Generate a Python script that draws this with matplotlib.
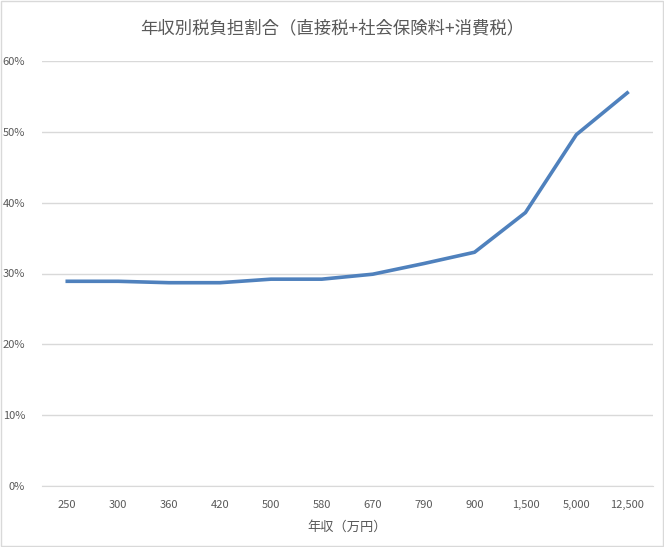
import matplotlib
matplotlib.use('Agg')
import matplotlib.pyplot as plt
from matplotlib.ticker import FuncFormatter, MultipleLocator
from matplotlib.patches import Rectangle

plt.rcParams['font.family'] = ['Noto Sans CJK JP', 'DejaVu Sans']

# 年収（万円）ごとの税負担割合 (%)
nenshu = ['250', '300', '360', '420', '500', '580', '670', '790', '900',
          '1,500', '5,000', '12,500']
wariai = [28.9, 28.9, 28.7, 28.7, 29.2, 29.2, 29.9, 31.4, 33.0, 38.6, 49.6, 55.5]

fig = plt.figure(figsize=(6.64, 5.47), dpi=100)
ax = fig.add_axes([0.063, 0.1115, 0.920, 0.777])

x = range(len(nenshu))
ax.plot(x, wariai, color='#4f81bd', linewidth=2.6, solid_joinstyle='round')

ax.set_xlim(-0.5, len(nenshu) - 0.5)
ax.set_ylim(0, 60)
ax.yaxis.set_major_locator(MultipleLocator(10))
ax.yaxis.set_major_formatter(FuncFormatter(lambda v, p: f"{v:.0f}%"))
ax.set_xticks(list(x))
ax.set_xticklabels(nenshu)

ax.grid(True, axis='y', color='#d9d9d9', linewidth=1)
ax.set_axisbelow(True)
for s in ['top', 'right', 'left']:
    ax.spines[s].set_visible(False)
ax.spines['bottom'].set_color('#d9d9d9')
ax.tick_params(axis='both', length=0, labelsize=8, colors='#595959')
ax.tick_params(axis='x', pad=10)
ax.tick_params(axis='y', pad=12)

ax.set_xlabel('年収（万円）', fontsize=9.5, color='#595959', labelpad=8)
fig.suptitle('年収別税負担割合（直接税+社会保険料+消費税）', fontsize=12.5,
             color='#595959', y=0.965)

fig.add_artist(Rectangle((0.001, 0.001), 0.997, 0.997, transform=fig.transFigure,
                         fill=False, edgecolor='#d9d9d9', linewidth=1))

fig.savefig('out.png', dpi=100)
